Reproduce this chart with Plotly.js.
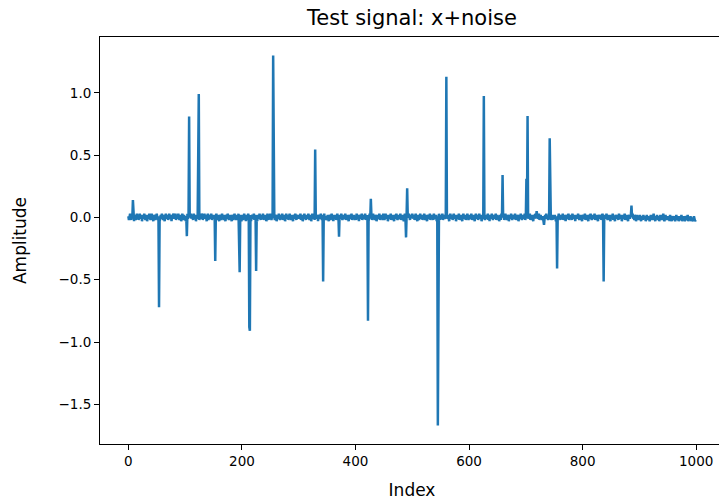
<!DOCTYPE html>
<html>
<head>
<meta charset="utf-8">
<script src="https://cdn.plot.ly/plotly-3.0.1.min.js"></script>
<style>
  html, body { margin: 0; padding: 0; overflow: hidden; background: #fff; }
</style>
</head>
<body>
<div id="chart"></div>
<script>
// Background noise, one value per sample, in hundredths of a unit
const noiseHundredths = [
  1,-2,0,3,1,-2,2,0,3,-1, -3,2,1,-2,0,3,-1,2,-2,0, 3,1,-1,2,-3,0,2,-1,3,1, -2,0,2,-3,1,2,-1,3,0,-2, 1,3,-1,0,-3,2,1,-2,0,2,
  3,0,-2,1,2,-3,0,2,-1,3, 1,-2,2,0,-3,1,3,-1,0,2, -2,1,3,0,-1,2,-3,1,0,3, 2,-1,0,3,-2,1,2,-1,3,0, -2,2,1,-3,0,3,1,-2,2,0,
  1,-3,0,2,3,-1,1,-2,2,0, 3,-1,2,0,-2,3,1,-1,2,-3, 0,2,-1,3,1,-2,0,2,-1,3, 2,-2,0,1,3,-1,2,0,-3,1, 3,-2,0,2,-1,1,3,-2,0,2,
  -1,2,0,-3,1,3,-2,0,2,-1, -3,1,2,-2,0,3,-1,1,-2,2, 0,-3,1,2,-1,3,0,-2,1,-1, 2,0,-3,1,2,-2,0,3,-1,1, -2,2,0,-1,3,1,-2,0,2,-3,
  1,2,-2,0,3,-1,1,-3,2,0, -2,3,1,-1,0,2,-3,1,2,-1, 0,3,-2,1,2,-1,0,-3,2,1, -1,3,0,-2,2,1,-1,3,-2,0, 2,-1,1,-3,0,3,1,-2,2,-1,
  3,0,-2,1,2,-1,3,0,-2,2, 1,-3,0,2,-1,3,1,-2,0,2, -1,3,-2,0,2,1,-3,0,3,-1, 1,2,-2,0,3,-1,1,-2,2,0, -3,1,2,-1,3,0,-2,2,1,-1,
  2,-1,0,3,-2,1,2,-3,0,2, 3,-1,1,-2,2,0,-1,3,1,-2, 0,2,-3,1,3,-1,0,2,-2,1, 3,0,-1,2,-3,1,2,-1,0,3, 1,-2,2,0,-1,3,-2,1,0,-2,
  -1,2,0,-3,1,2,-2,0,3,-1, 1,-3,2,0,-1,2,-2,1,3,-1, 0,-3,2,1,-1,3,0,-2,1,2, -1,0,3,-2,1,-1,2,0,-3,1, 2,-1,0,3,-2,1,-1,2,0,-2,
  1,-2,3,0,-1,2,-3,1,2,-1, 0,3,-2,1,2,-1,0,3,-2,1, -1,2,0,-3,1,3,-1,0,2,-2, 1,3,-1,0,-2,2,1,-3,0,2, -1,1,3,-2,0,2,-1,1,-2,3,
  0,-2,1,3,-1,0,2,-3,1,2, -1,0,3,-2,1,-1,2,0,-3,1, 2,-1,3,0,-2,1,2,-1,0,3, -2,1,-1,2,0,-3,1,3,-1,0, 2,-2,1,0,3,-1,-2,2,0,1,
  3,-1,0,2,-2,1,3,-1,0,-3, 2,1,-2,0,3,-1,1,2,-2,0, -1,3,1,-2,2,0,-3,1,2,-1, 0,3,-2,1,-1,2,0,-2,3,1, -1,0,2,-3,1,2,-1,3,0,-2,
  2,0,-1,3,-2,1,2,-1,0,3, -2,1,-1,2,0,-3,1,3,-1,0, 2,-2,1,3,-1,0,2,-3,1,2, -1,0,3,-2,1,-1,2,0,-3,1, 3,-1,0,2,-2,1,-1,3,0,-2,
  1,2,-1,0,3,-2,1,-1,2,0, -3,1,3,-1,0,2,-2,1,3,-1, 0,2,-3,1,2,-1,3,0,-2,1, 2,-1,0,3,-2,1,-3,2,0,-1, 3,1,-2,0,2,-1,1,3,-2,0,
  2,-1,1,-3,0,2,-2,3,1,-1, 0,2,-2,1,3,-1,0,-2,2,1, -3,0,2,-1,3,1,-2,0,2,-1, 1,3,-2,0,-1,2,1,-3,0,2, -1,3,0,-2,1,2,-1,0,3,-2,
  1,0,2,1,-1,2,0,3,-2,1, -1,2,0,-3,1,2,-1,3,0,5, 2,-1,0,3,-2,1,2,-1,0,-2, 1,-3,-6,-1,2,0,3,-1,1,-2, 0,2,-1,3,-2,0,1,-2,2,0,
  -1,2,0,-3,1,2,-2,0,3,-1, 1,-2,2,0,-1,3,-2,1,0,2, -3,1,2,-1,0,3,-2,1,-1,2, 0,-2,3,1,-1,0,2,-3,1,0, 2,-1,3,0,-2,1,-1,2,0,-3,
  1,2,-1,0,3,-2,1,-1,2,0, -3,1,2,-1,3,0,-2,1,2,-1, 0,3,-2,1,-1,2,0,-3,1,2, -1,0,2,-2,1,3,-1,0,-2,2, 1,-1,3,0,-2,1,2,-1,0,-3,
  2,0,-1,3,-2,1,0,-3,2,1, -1,2,0,-2,3,1,-1,0,2,-3, 1,2,-1,0,3,-2,1,-1,2,0, -3,1,2,-1,0,2,-2,1,3,-1, 0,-2,2,1,-3,0,2,-1,1,-2,
  0,2,-1,-3,1,0,-2,2,-1,0, 1,-3,0,2,-2,1,-1,0,-3,1, 2,-1,0,-2,1,3,-1,0,-3,1, -1,2,0,-2,1,-3,0,2,-1,0, -2,1,3,-1,-3,0,2,-2,1,-1,
  0,-2,1,-3,2,0,-1,-3,1,0, -2,1,-1,-3,0,2,-2,-1,1,-3, 0,1,-2,-1,2,-3,0,-1,1,-2, -3,0,1,-2,-1,2,-3,-1,0,-2, 1,-3,-1,0,-2,-3,1,-2,-3,-2
];

// Impulses riding on the noise: sample index and amplitude
const spikeIndex = [8, 54, 103, 107, 123, 124, 153, 195, 196, 213, 214, 225, 255, 329, 343, 371,
                    422, 427, 489, 491, 545, 560, 626, 659, 701, 703, 742, 755, 837, 886];
const spikeValue = [0.14, -0.72, -0.15, 0.81, 0.97, 0.99, -0.35, -0.43, -0.44, -0.88, -0.91, -0.43, 1.30, 0.545, -0.515, -0.155,
                    -0.83, 0.15, -0.16, 0.235, -1.67, 1.13, 0.975, 0.34, 0.31, 0.815, 0.635, -0.41, -0.515, 0.095];

const xTickValues = [0, 200, 400, 600, 800, 1000];
const xTickLabels = ['0', '200', '400', '600', '800', '1000'];
const yTickValues = [-1.5, -1.0, -0.5, 0.0, 0.5, 1.0];
const yTickLabels = ['\u22121.5', '\u22121.0', '\u22120.5', '0.0', '0.5', '1.0'];

// Build the signal: noise plus impulses
const signal = noiseHundredths.map(v => v / 100);
spikeIndex.forEach((idx, k) => { signal[idx] = spikeValue[k]; });
const index = signal.map((_, i) => i);

// Auto-scale with a 5% pad on each side
function padded(arr) {
  const lo = Math.min(...arr), hi = Math.max(...arr);
  const pad = (hi - lo) * 0.05;
  return [lo - pad, hi + pad];
}

const font = 'DejaVu Sans, sans-serif';

const trace = {
  x: index,
  y: signal,
  type: 'scatter',
  mode: 'lines',
  line: { color: '#1f77b4', width: 2.5 },
  hoverinfo: 'skip'
};

const axisCommon = {
  showgrid: false,
  zeroline: false,
  showline: true,
  linecolor: '#000',
  linewidth: 1,
  mirror: true,
  ticks: 'outside',
  ticklen: 5,
  tickwidth: 1,
  tickcolor: '#000',
  tickfont: { family: font, size: 13.5, color: '#000' }
};

const layout = {
  width: 725,
  height: 502,
  margin: { l: 100, r: 1, t: 37, b: 58 },
  paper_bgcolor: '#fff',
  plot_bgcolor: '#fff',
  showlegend: false,
  title: {
    text: 'Test signal: x+noise',
    font: { family: font, size: 21, color: '#000' },
    xref: 'paper', x: 0.5, xanchor: 'center',
    yref: 'container', y: 0.965, yanchor: 'middle'
  },
  xaxis: Object.assign({}, axisCommon, {
    range: padded(index),
    tickvals: xTickValues,
    ticktext: xTickLabels,
    title: { text: 'Index', font: { family: font, size: 17, color: '#000' }, standoff: 15 }
  }),
  yaxis: Object.assign({}, axisCommon, {
    range: padded(signal),
    tickvals: yTickValues,
    ticktext: yTickLabels,
    title: { text: 'Amplitude', font: { family: font, size: 17, color: '#000' }, standoff: 27 }
  })
};

Plotly.newPlot('chart', [trace], layout, { displayModeBar: false, staticPlot: true });
</script>
</body>
</html>
